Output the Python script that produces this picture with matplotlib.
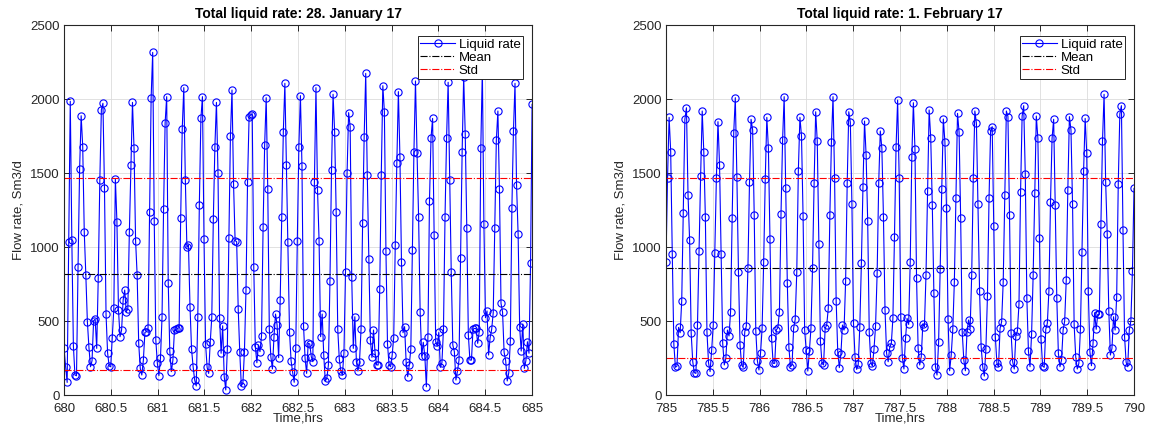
import numpy as np
import matplotlib
matplotlib.use("Agg")
import matplotlib.pyplot as plt
from matplotlib.ticker import FormatStrFormatter, MultipleLocator

# liquid rate, 28 January 17 (one sample per minute, 680-685 hrs)
jan_rate = [
    315, 191, 85, 1036, 1985, 1047, 333, 135, 130, 867,
    1527, 1887, 1678, 1099, 811, 495, 322, 191, 232, 502,
    513, 315, 793, 1450, 1928, 1971, 1396, 545, 284, 196,
    191, 387, 585, 1461, 1171, 574, 394, 439, 642, 709,
    563, 581, 1103, 1554, 1977, 1667, 1043, 811, 349, 180,
    135, 236, 423,
    428, 450, 1234, 2009, 2315, 1176, 372, 214, 131, 248,
    525, 1257, 1840, 2016, 759, 297, 158, 236, 439, 444,
    450, 455, 1198, 1797, 2077, 1453, 998, 1014, 597, 309,
    191, 101, 61, 525, 1284, 1869, 2016, 1052, 345, 187,
    146, 356, 525, 1189, 1678, 1977, 1498, 518, 282, 468,
    124, 34, 309, 1059, 1752, 2061, 1426, 1043, 1036, 581,
    288, 63, 79,
    293, 709, 1441, 1881, 1892, 1901, 867, 327, 218, 338,
    293, 401, 1133, 1689, 2009, 1390, 446, 259, 176, 394,
    547, 473, 252, 642, 1205, 1775, 2106, 1554, 1036, 423,
    232, 153, 86, 320, 1043, 1678, 2023, 1547, 468, 248,
    146, 349, 345, 259, 225, 1441, 2077, 1385, 1043, 394,
    547, 270, 95, 113, 203, 773, 1520, 2032, 1779, 1234,
    446, 243, 162, 135,
    286, 833, 1498, 1908, 1813, 795, 315, 529, 225, 162,
    225, 446, 1160, 1746, 2173, 1487, 919, 372, 254, 439,
    286, 203, 203, 716, 1487, 2090, 1914, 973, 345, 203,
    191, 270, 387, 1014, 1565, 2050, 1606, 896, 421, 462,
    221, 124, 203, 309, 980, 1644, 2122, 1633, 1205, 563,
    264, 356, 266, 56, 394, 1313, 1739, 1869, 1081, 360,
    331, 423, 187, 218,
    444, 1205, 1739, 2113, 1453, 829, 338, 293, 101, 162,
    236, 928, 1640, 2151, 1761, 1126, 405, 236, 236, 444,
    450, 450, 349, 428, 1667, 2200, 1153, 523, 568, 270,
    387, 444, 556, 1126, 1723, 1919, 1390, 619, 559, 288,
    232, 95, 151, 365, 1266, 1784, 2106, 1419, 1088, 457,
    297, 480, 180, 232, 360, 282, 890, 1964,
]

# liquid rate, 1 February 17 (785-790 hrs)
feb_rate = [
    900, 1468, 1876, 1644, 953, 342, 187, 196, 457, 421,
    637, 1232, 1863, 1941, 1351, 1047, 417, 225, 151, 146,
    473, 973, 1482, 1919, 1644, 1200, 428, 218, 158, 304,
    473, 962, 1468, 1847, 1554, 953, 349, 203, 248, 439,
    399, 563, 1194, 1772, 2009,
    1475, 833, 338, 203, 187, 428, 466, 856, 1437, 1863,
    1791, 1216, 432, 232, 169, 282, 450, 901, 1457, 1876,
    1667, 1054, 387, 214, 214, 439, 455, 563, 1223, 1723,
    2016, 1396, 759, 322, 191, 203, 450, 511, 829, 1516,
    1876, 1752, 1209, 439, 304, 162, 297, 450, 856, 1430,
    1914, 1716, 1018, 365, 214, 203, 450, 473, 585, 1216,
    1712, 2016,
    1464, 635, 293, 185, 277, 473, 439, 770, 1430, 1914,
    1842, 1288, 484, 254, 173, 207, 462, 890, 1403, 1851,
    1622, 1176, 423, 218, 196, 309, 468, 822, 1435, 1784,
    1667, 1205, 574, 282, 225, 322, 349, 518, 1070, 1673,
    1993, 1464, 529, 252, 176, 383, 518, 477, 901, 1610,
    1975, 1660, 793, 315, 203, 259, 480, 462, 811, 1381,
    1926, 1739, 1284, 691, 191,
    135, 356, 851, 1392, 1865, 1712, 1266, 514, 164, 270,
    444, 766, 1329, 1903, 1775, 1194, 423, 236, 164, 423,
    507, 446, 811, 1464, 1919, 1836, 1288, 703, 327, 191,
    128, 309, 669, 1329, 1784, 1813, 1144, 394, 214, 191,
    450, 495, 766, 1351, 1919, 1881, 1216, 417, 225, 176,
    399, 432, 613, 1369, 1885, 1955, 1491, 653, 297, 191,
    410,
    811, 1363, 1885, 1734, 1063, 378, 196, 187, 444, 484,
    705, 1302, 1734, 1863, 1284, 653, 282, 191, 236, 439,
    500, 777, 1385, 1881, 1791, 1288, 477, 259, 176, 214,
    444, 968, 1514, 1869, 1633, 703, 293, 198, 349, 556,
    444, 545, 545, 1155, 1716, 2032, 1441, 1088, 568, 270,
    315, 529, 439, 664, 1426, 1899, 1955, 1115, 394, 221,
    191, 439, 500, 838, 1396,
]

jan_span = (680, 685)
feb_span = (785, 790)
jan_mean, jan_std = 818, 646
feb_mean, feb_std = 860, 608
titles = ["Total liquid rate: 28. January 17", "Total liquid rate: 1. February 17"]

plt.rcParams["font.family"] = ["Liberation Sans", "DejaVu Sans"]
plt.rcParams["font.size"] = 9.5
dark = "#262626"

fig = plt.figure(figsize=(11.5, 4.32), dpi=100)
boxes = [[0.0557, 0.0856, 0.4070, 0.8565], [0.5791, 0.0856, 0.4070, 0.8565]]

panels = [(jan_rate, jan_span, jan_mean, jan_std), (feb_rate, feb_span, feb_mean, feb_std)]
for box, (rate, span, mean, std), title in zip(boxes, panels, titles):
    ax = fig.add_axes(box)
    t = np.linspace(span[0], span[1], len(rate))
    ax.plot(t, rate, "-o", color="blue", lw=0.8, ms=5.2, mfc="none", mew=0.8, label="Liquid rate")
    ax.axhline(mean, color="black", ls="-.", lw=0.8, label="Mean")
    ax.axhline(mean + std, color="red", ls="-.", lw=0.8, label="Std")
    ax.axhline(mean - std, color="red", ls="-.", lw=0.8)
    ax.set_xlim(*span)
    ax.set_ylim(0, 2500)
    ax.xaxis.set_major_locator(MultipleLocator(0.5))
    ax.xaxis.set_major_formatter(FormatStrFormatter("%g"))
    ax.yaxis.set_major_locator(MultipleLocator(500))
    ax.grid(True, color="#dcdcdc", lw=0.6)
    ax.set_axisbelow(True)
    ax.tick_params(direction="in", top=True, right=True, length=4, width=0.7,
                   colors=dark, labelsize=9.5, pad=3)
    ax.tick_params(axis="x", pad=5.5)
    for s in ax.spines.values():
        s.set_color(dark)
        s.set_linewidth(0.8)
    ax.set_title(title, fontsize=10, fontweight="bold", pad=5)
    ax.set_xlabel("Time,hrs", labelpad=-1.5, color=dark)
    ax.set_ylabel("Flow rate, Sm3/d", labelpad=4, color=dark)
    leg = ax.legend(loc="upper right", bbox_to_anchor=(0.981, 0.970), borderaxespad=0,
                    fancybox=False, framealpha=1, edgecolor=dark, fontsize=9.5,
                    handlelength=2.6, handletextpad=0.3, borderpad=0.2, labelspacing=0.05)
    leg.get_frame().set_linewidth(0.7)

fig.savefig("out.png", dpi=100, facecolor="white")
